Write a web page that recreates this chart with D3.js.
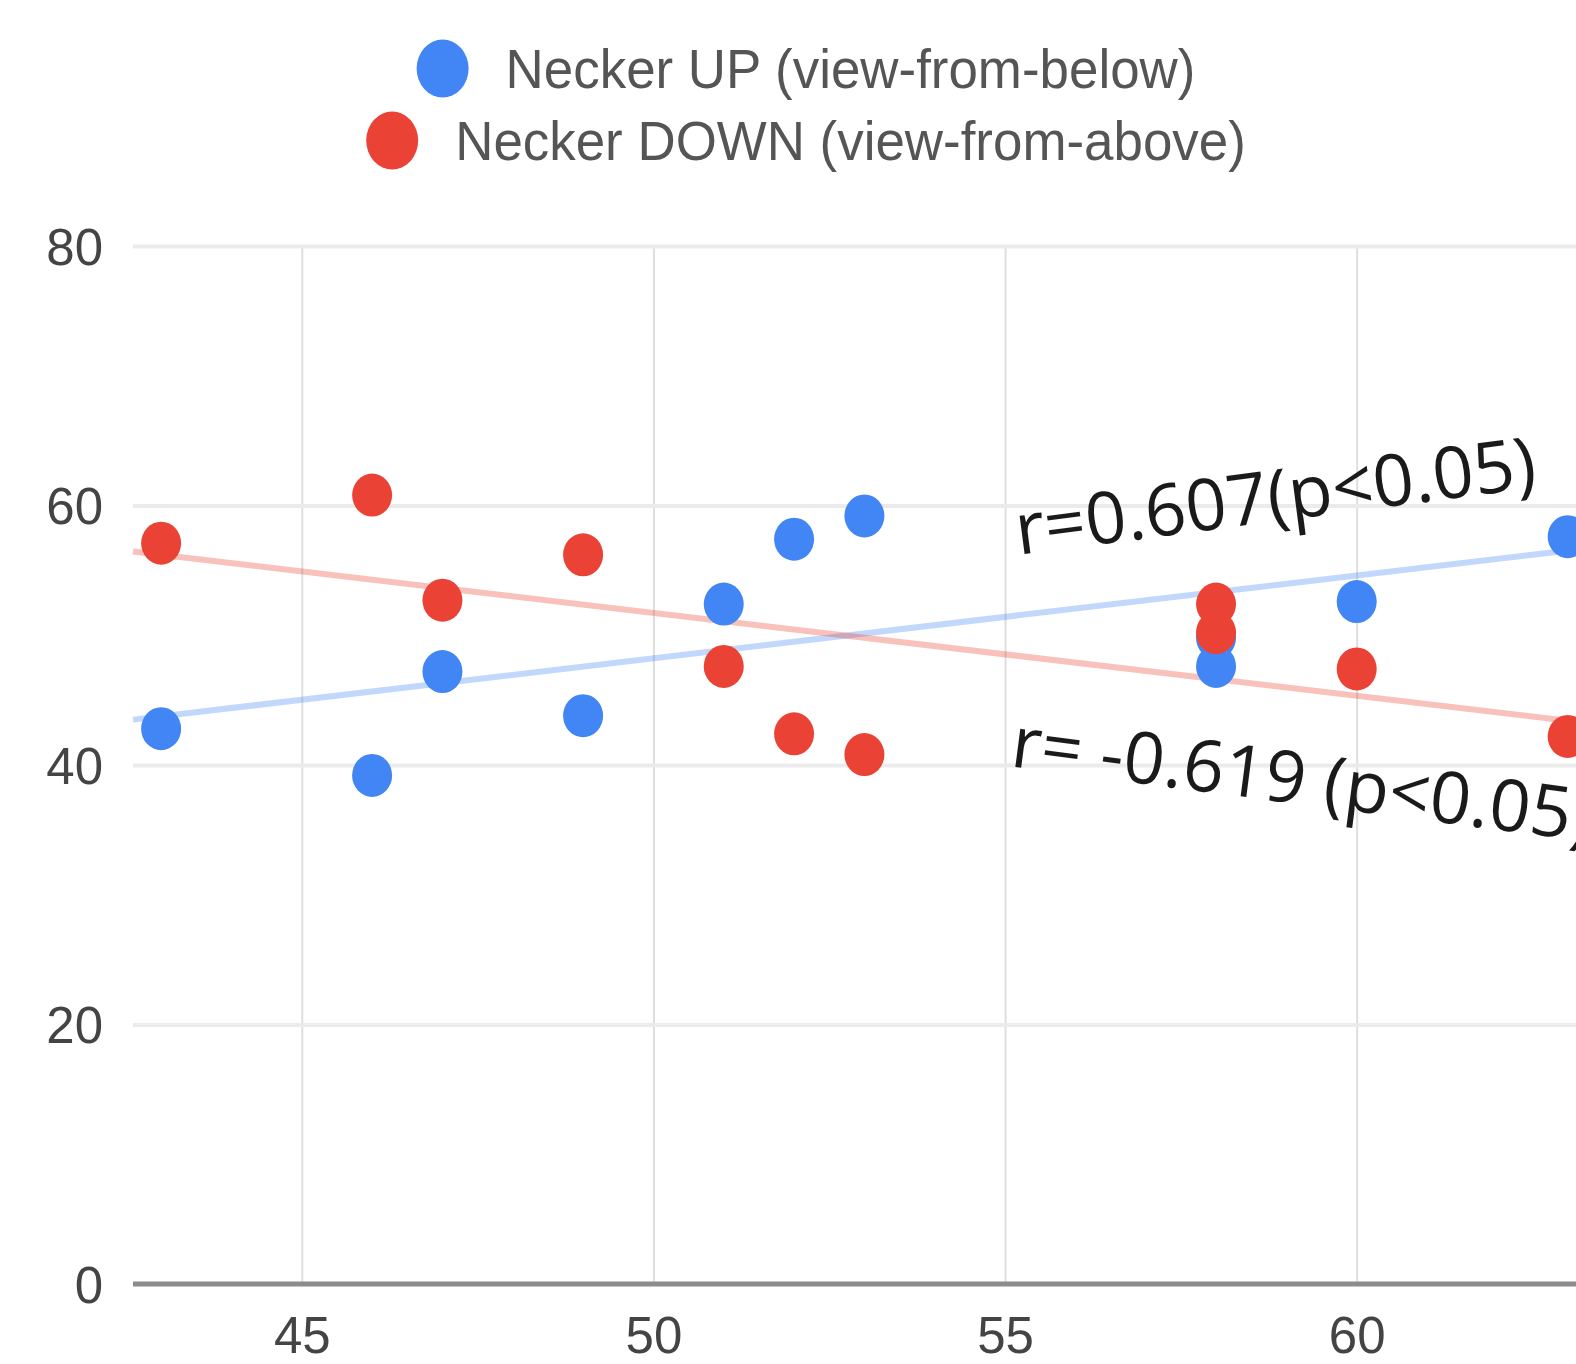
<!DOCTYPE html>
<html>
<head>
<meta charset="utf-8">
<script src="https://cdn.jsdelivr.net/npm/d3@7"></script>
<style>
  body { margin: 0; background: #fff; }
  svg { display: block; }
</style>
</head>
<body>
<div id="chart"></div>
<script>
// age (x) and percentage for each percept
var ages = [43, 46, 47, 49, 51, 52, 53, 58, 58, 60, 63];
var upValues = [42.8, 39.2, 47.2, 43.8, 52.4, 57.4, 59.2, 47.6, 49.8, 52.6, 57.6];
var downValues = [57.1, 60.8, 52.7, 56.2, 47.6, 42.4, 40.8, 52.4, 50.2, 47.4, 42.2];
var seriesNames = ["Necker UP (view-from-below)", "Necker DOWN (view-from-above)"];
var seriesColors = ["#4285f4", "#ea4335"];
var xTicks = [45, 50, 55, 60];
var yTicks = [0, 20, 40, 60, 80];
var notes = [
  {text: "r=0.607(p<0.05)", x: 55.19, y: 56.2, angle: -7.4},
  {text: "r= -0.619 (p<0.05)", x: 55.06, y: 39.9, angle: 7.4}
];

var W = 1576, H = 1364;
var plot = {left: 133, right: 1638, top: 246, bottom: 1284};

var svg = d3.select("#chart").append("svg")
  .attr("width", W)
  .attr("height", H);

var x = d3.scaleLinear().domain([42.6, 64]).range([plot.left, plot.right]);
var y = d3.scaleLinear().domain([0, 80]).range([plot.bottom, plot.top]);

// vertical gridlines
svg.append("g")
  .attr("transform", "translate(0," + plot.bottom + ")")
  .call(d3.axisBottom(x).tickValues(xTicks).tickSize(-(plot.bottom - plot.top)).tickFormat(""))
  .call(function(g) {
    g.select(".domain").remove();
    g.selectAll("line").attr("stroke", "#dedede").attr("stroke-width", 2);
  });

// horizontal gridlines
svg.append("g")
  .attr("transform", "translate(" + plot.left + ",0)")
  .call(d3.axisLeft(y).tickValues(yTicks.filter(function(d) { return d > 0; }))
    .tickSize(-(plot.right - plot.left)).tickFormat(""))
  .call(function(g) {
    g.select(".domain").remove();
    g.selectAll("line").attr("stroke", "#ebebeb").attr("stroke-width", 4);
  });

// baseline
svg.append("line")
  .attr("x1", plot.left).attr("x2", plot.right)
  .attr("y1", y(0)).attr("y2", y(0))
  .attr("stroke", "#8c8c8c").attr("stroke-width", 5);

// tick labels
svg.append("g")
  .attr("transform", "translate(" + (plot.left - 27) + ",0)")
  .call(d3.axisLeft(y).tickValues(yTicks).tickSize(0))
  .call(function(g) {
    g.select(".domain").remove();
    g.selectAll("text")
      .attr("font-family", "Liberation Sans, Arial, sans-serif")
      .attr("font-size", 51)
      .attr("fill", "#444")
      .attr("dy", "0.36em");
  });

svg.append("g")
  .attr("transform", "translate(0," + (plot.bottom + 23) + ")")
  .call(d3.axisBottom(x).tickValues(xTicks).tickSize(0))
  .call(function(g) {
    g.select(".domain").remove();
    g.selectAll("text")
      .attr("font-family", "Liberation Sans, Arial, sans-serif")
      .attr("font-size", 51)
      .attr("fill", "#444")
      .attr("dy", "0.85em");
  });

// least-squares trendlines
function fit(xv, yv) {
  var mx = d3.mean(xv), my = d3.mean(yv);
  var sxy = d3.sum(xv, function(d, i) { return (d - mx) * (yv[i] - my); });
  var sxx = d3.sum(xv, function(d) { return (d - mx) * (d - mx); });
  var b = sxy / sxx;
  return function(v) { return my + b * (v - mx); };
}

var series = [upValues, downValues];
var line = d3.line().x(function(d) { return x(d[0]); }).y(function(d) { return y(d[1]); });

series.forEach(function(vals, i) {
  var f = fit(ages, vals);
  var dom = x.domain();
  svg.append("path")
    .attr("d", line([[dom[0], f(dom[0])], [dom[1], f(dom[1])]]))
    .attr("fill", "none")
    .attr("stroke", seriesColors[i])
    .attr("stroke-opacity", 0.33)
    .attr("stroke-width", 6);
});

// points
series.forEach(function(vals, i) {
  svg.append("g").selectAll("ellipse")
    .data(ages)
    .enter().append("ellipse")
    .attr("cx", function(d) { return x(d); })
    .attr("cy", function(d, j) { return y(vals[j]); })
    .attr("rx", 20)
    .attr("ry", 21.5)
    .attr("fill", seriesColors[i]);
});

// annotations
svg.append("g").selectAll("text")
  .data(notes)
  .enter().append("text")
  .attr("transform", function(d) {
    return "translate(" + x(d.x) + "," + y(d.y) + ") rotate(" + d.angle + ")";
  })
  .attr("font-family", "Open Sans, sans-serif")
  .attr("font-size", 72)
  .attr("fill", "#1a1a1a")
  .text(function(d) { return d.text; });

// legend, each row centred
var legend = svg.append("g");
var rows = [68.5, 140.5];
seriesNames.forEach(function(name, i) {
  var row = legend.append("g");
  var t = row.append("text")
    .attr("transform", "translate(89," + rows[i] + ") scale(0.962,1)")
    .attr("dy", "0.36em")
    .attr("font-family", "Liberation Sans, Arial, sans-serif")
    .attr("font-size", 55)
    .attr("fill", "#555")
    .text(name);
  row.append("ellipse")
    .attr("cx", 26)
    .attr("cy", rows[i])
    .attr("rx", 26)
    .attr("ry", 29)
    .attr("fill", seriesColors[i]);
  var w = 89 + 0.962 * t.node().getComputedTextLength();
  row.attr("transform", "translate(" + (806 - w / 2) + ",0)");
});
</script>
</body>
</html>
